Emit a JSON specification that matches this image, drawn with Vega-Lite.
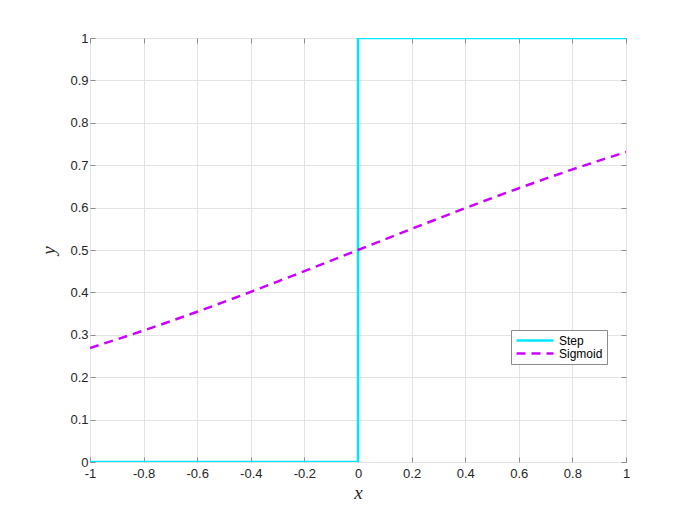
{
  "$schema": "https://vega.github.io/schema/vega-lite/v6.json",
  "width": 536,
  "height": 424,
  "autosize": "none",
  "padding": {"left": 90, "top": 38, "right": 66, "bottom": 57},
  "background": "white",
  "config": {
    "view": {"stroke": "#8c8c8c", "strokeWidth": 1},
    "font": "Liberation Sans",
    "axis": {
      "labelFont": "Liberation Sans",
      "labelFontSize": 13,
      "labelColor": "#262626",
      "labelFlush": false,
      "labelOverlap": false,
      "labelExpr": "'' + datum.value",
      "domainColor": "#8c8c8c",
      "tickColor": "#8c8c8c",
      "gridColor": "#e3e3e3",
      "titleFont": "Liberation Serif",
      "titleFontStyle": "italic",
      "titleFontWeight": "normal",
      "titleFontSize": 19,
      "titleColor": "#262626"
    }
  },
  "data": {
    "values": [
      {"series": "Step", "i": 0, "x": -1, "y": 0},
      {"series": "Step", "i": 1, "x": 0, "y": 0},
      {"series": "Step", "i": 2, "x": 0, "y": 1},
      {"series": "Step", "i": 3, "x": 1, "y": 1},
      {"series": "Sigmoid", "i": 0, "x": -1.0, "y": 0.2689},
      {"series": "Sigmoid", "i": 1, "x": -0.9, "y": 0.2891},
      {"series": "Sigmoid", "i": 2, "x": -0.8, "y": 0.3100},
      {"series": "Sigmoid", "i": 3, "x": -0.7, "y": 0.3318},
      {"series": "Sigmoid", "i": 4, "x": -0.6, "y": 0.3543},
      {"series": "Sigmoid", "i": 5, "x": -0.5, "y": 0.3775},
      {"series": "Sigmoid", "i": 6, "x": -0.4, "y": 0.4013},
      {"series": "Sigmoid", "i": 7, "x": -0.3, "y": 0.4256},
      {"series": "Sigmoid", "i": 8, "x": -0.2, "y": 0.4502},
      {"series": "Sigmoid", "i": 9, "x": -0.1, "y": 0.4750},
      {"series": "Sigmoid", "i": 10, "x": 0.0, "y": 0.5000},
      {"series": "Sigmoid", "i": 11, "x": 0.1, "y": 0.5250},
      {"series": "Sigmoid", "i": 12, "x": 0.2, "y": 0.5498},
      {"series": "Sigmoid", "i": 13, "x": 0.3, "y": 0.5744},
      {"series": "Sigmoid", "i": 14, "x": 0.4, "y": 0.5987},
      {"series": "Sigmoid", "i": 15, "x": 0.5, "y": 0.6225},
      {"series": "Sigmoid", "i": 16, "x": 0.6, "y": 0.6457},
      {"series": "Sigmoid", "i": 17, "x": 0.7, "y": 0.6682},
      {"series": "Sigmoid", "i": 18, "x": 0.8, "y": 0.6900},
      {"series": "Sigmoid", "i": 19, "x": 0.9, "y": 0.7109},
      {"series": "Sigmoid", "i": 20, "x": 1.0, "y": 0.7311}
    ]
  },
  "resolve": {"axis": {"x": "independent", "y": "independent"}},
  "layer": [
    {
      "mark": {"type": "line", "strokeWidth": 0, "opacity": 0},
      "encoding": {
        "x": {"field": "x", "type": "quantitative", "scale": {"domain": [-1, 1], "nice": false, "zero": false},
          "axis": {"orient": "top", "labels": false, "title": null, "grid": false, "domain": false, "tickSize": -5, "values": [-1, -0.8, -0.6, -0.4, -0.2, 0, 0.2, 0.4, 0.6, 0.8, 1]}},
        "y": {"field": "y", "type": "quantitative", "scale": {"domain": [0, 1], "nice": false},
          "axis": {"orient": "right", "labels": false, "title": null, "grid": false, "domain": false, "tickSize": -5, "values": [0, 0.1, 0.2, 0.3, 0.4, 0.5, 0.6, 0.7, 0.8, 0.9, 1]}},
        "detail": {"field": "series"}
      }
    },
    {
      "mark": {"type": "line", "strokeWidth": 2.5, "clip": true},
      "encoding": {
        "x": {"field": "x", "type": "quantitative", "scale": {"domain": [-1, 1], "nice": false, "zero": false},
          "axis": {"orient": "bottom", "title": "x", "grid": true, "domain": false, "tickSize": -5, "labelPadding": 10, "titlePadding": 3, "values": [-1, -0.8, -0.6, -0.4, -0.2, 0, 0.2, 0.4, 0.6, 0.8, 1]}},
        "y": {"field": "y", "type": "quantitative", "scale": {"domain": [0, 1], "nice": false},
          "axis": {"orient": "left", "title": "y", "grid": true, "domain": false, "tickSize": -5, "labelPadding": 7, "titlePadding": 11, "values": [0, 0.1, 0.2, 0.3, 0.4, 0.5, 0.6, 0.7, 0.8, 0.9, 1]}},
        "order": {"field": "i", "type": "quantitative"},
        "color": {"field": "series", "type": "nominal",
          "scale": {"domain": ["Step", "Sigmoid"], "range": ["#00e8ff", "#cc00ff"]},
          "legend": {"title": null, "orient": "none", "legendX": 421, "legendY": 292, "strokeColor": "#8c8c8c", "fillColor": "white", "padding": 4, "symbolType": "M-1,0H6.4", "symbolSize": 100, "symbolStrokeWidth": 2.5, "labelOffset": 31, "labelFontSize": 12, "labelColor": "#000000", "rowPadding": 0}},
        "strokeDash": {"field": "series", "type": "nominal",
          "scale": {"domain": ["Step", "Sigmoid"], "range": [[1, 0], [9, 6]]},
          "legend": null}
      }
    }
  ]
}
